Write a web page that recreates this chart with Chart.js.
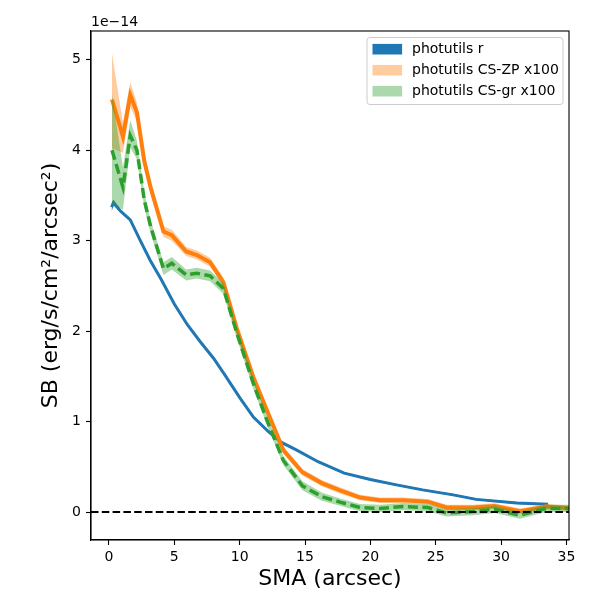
<!DOCTYPE html>
<html>
<head>
<meta charset="utf-8">
<script src="https://cdn.jsdelivr.net/npm/chart.js@4.4.1/dist/chart.umd.min.js"></script>
<style>
  html, body { margin: 0; padding: 0; background: #fff; }
  #wrap { width: 600px; height: 600px; }
</style>
</head>
<body>
<div id="wrap"><canvas id="myChart" width="600" height="600"></canvas></div>
<script>
// values in units of 1e-14 erg/s/cm^2/arcsec^2
const xTicks = [0, 5, 10, 15, 20, 25, 30, 35];
const yTicks = [0, 1, 2, 3, 4, 5];

// photutils r
const smaR = [0.2, 0.35, 0.86, 1.63, 2.4, 3.16, 4.0, 5.0, 6.0, 7.0, 8.0, 8.89, 10.03, 11.05, 12.2, 13.2, 14.37, 16.0, 18.0, 20.0, 22.0, 24.0, 26.34, 28.1, 31.2, 33.6];
const sbR = [3.37, 3.42, 3.33, 3.23, 3.0, 2.78, 2.57, 2.30, 2.07, 1.88, 1.70, 1.51, 1.26, 1.05, 0.89, 0.77, 0.685, 0.556, 0.43, 0.36, 0.30, 0.245, 0.19, 0.14, 0.10, 0.085];
const errR = [0.05, 0.03, 0.02, 0.015, 0.01, 0.01, 0.01, 0.01, 0.01, 0.01, 0.01, 0.01, 0.01, 0.01, 0.01, 0.01, 0.01, 0.01, 0.01, 0.01, 0.01, 0.01, 0.01, 0.01, 0.01, 0.01];

// colour-scaled profiles x100
const smaCS = [0.23, 1.07, 1.63, 2.14, 2.7, 3.2, 4.17, 4.81, 5.91, 6.72, 7.74, 8.76, 9.78, 11.05, 12.07, 13.34, 14.8, 16.28, 17.68, 19.21, 20.73, 22.5, 24.4, 25.83, 27.86, 29.5, 31.45, 33.47, 35.5];
const sbZP = [4.56, 4.15, 4.61, 4.42, 3.88, 3.58, 3.10, 3.06, 2.88, 2.84, 2.76, 2.54, 2.03, 1.49, 1.13, 0.685, 0.44, 0.32, 0.24, 0.16, 0.13, 0.13, 0.115, 0.05, 0.05, 0.066, 0.01, 0.06, 0.04];
const zpHi = [5.07, 4.30, 4.75, 4.52, 3.96, 3.65, 3.16, 3.12, 2.93, 2.89, 2.81, 2.59, 2.08, 1.54, 1.17, 0.725, 0.475, 0.355, 0.275, 0.19, 0.16, 0.16, 0.145, 0.08, 0.08, 0.096, 0.04, 0.09, 0.07];
const zpLo = [4.02, 3.97, 4.48, 4.32, 3.80, 3.51, 3.04, 3.00, 2.83, 2.79, 2.71, 2.49, 1.98, 1.44, 1.09, 0.645, 0.405, 0.285, 0.205, 0.13, 0.10, 0.10, 0.085, 0.02, 0.02, 0.036, -0.02, 0.03, 0.01];
const sbGR = [4.00, 3.59, 4.16, 4.00, 3.45, 3.15, 2.69, 2.75, 2.62, 2.64, 2.61, 2.47, 1.98, 1.42, 1.02, 0.57, 0.29, 0.17, 0.11, 0.05, 0.04, 0.06, 0.05, -0.01, 0.005, 0.03, -0.035, 0.04, 0.04];
const grHi = [4.62, 3.81, 4.33, 4.10, 3.53, 3.22, 2.76, 2.82, 2.68, 2.70, 2.67, 2.53, 2.04, 1.48, 1.07, 0.62, 0.34, 0.215, 0.15, 0.09, 0.08, 0.10, 0.09, 0.03, 0.045, 0.07, 0.005, 0.08, 0.08];
const grLo = [3.41, 3.34, 4.03, 3.90, 3.37, 3.08, 2.62, 2.68, 2.56, 2.58, 2.55, 2.41, 1.92, 1.36, 0.97, 0.52, 0.24, 0.125, 0.07, 0.01, 0.0, 0.02, 0.01, -0.05, -0.035, -0.01, -0.075, 0.0, 0.0];

const xMin = -1.375, xMax = 35.2, yMin = -0.309, yMax = 5.317;

const pts = (xs, ys) => xs.map((x, i) => ({ x: x, y: ys[i] }));
const FONT = 'DejaVu Sans';

const legendItems = [
  { text: 'photutils r', color: '#1f77b4' },
  { text: 'photutils CS-ZP x100', color: 'rgba(255,127,14,0.4)' },
  { text: 'photutils CS-gr x100', color: 'rgba(44,160,44,0.4)' }
];

// frame, offset text and in-axes legend
const decor = {
  id: 'decor',
  afterDraw(chart) {
    const { ctx, chartArea: a } = chart;
    ctx.save();
    ctx.strokeStyle = '#000';
    ctx.lineWidth = 1.1;
    ctx.strokeRect(a.left, a.top, a.right - a.left, a.bottom - a.top);

    ctx.fillStyle = '#000';
    ctx.font = '14px "' + FONT + '"';
    ctx.textAlign = 'left';
    ctx.textBaseline = 'alphabetic';
    ctx.fillText('1e\u221214', a.left, 26);

    const bw = 196, bh = 67;
    const bx = a.right - 6 - bw, by = a.top + 6.5;
    ctx.beginPath();
    ctx.roundRect(bx, by, bw, bh, 3);
    ctx.fillStyle = 'rgba(255,255,255,0.8)';
    ctx.fill();
    ctx.strokeStyle = '#cccccc';
    ctx.lineWidth = 1;
    ctx.stroke();
    legendItems.forEach((it, i) => {
      const cy = by + 11.7 + i * 21;
      ctx.fillStyle = '#fff';
      ctx.fillRect(bx + 5.5, cy - 5.3, 29.6, 10.6);
      ctx.fillStyle = it.color;
      ctx.fillRect(bx + 5.5, cy - 5.3, 29.6, 10.6);
      ctx.fillStyle = '#000';
      ctx.textBaseline = 'middle';
      ctx.fillText(it.text, bx + 45, cy);
    });
    ctx.restore();
  }
};

const band = (xs, ys, color, fill) => ({
  data: pts(xs, ys), borderWidth: 0, pointRadius: 0, tension: 0,
  backgroundColor: color, fill: fill
});

const ctx = document.getElementById('myChart').getContext('2d');
const myChart = new Chart(ctx, {
  type: 'line',
  data: {
    datasets: [
      { data: pts([xMin, xMax], [0, 0]), borderColor: '#000', borderWidth: 2, borderDash: [7.5, 3.3], pointRadius: 0, fill: false },
      { data: pts(smaCS, sbGR), borderColor: '#2ca02c', borderWidth: 3.5, borderDash: [10, 4.5], pointRadius: 0, tension: 0, fill: false },
      band(smaCS, grHi, 'rgba(44,160,44,0.4)', '+1'),
      band(smaCS, grLo, 'rgba(0,0,0,0)', false),
      { data: pts(smaCS, sbZP), borderColor: '#ff7f0e', borderWidth: 4, pointRadius: 0, tension: 0, fill: false },
      band(smaCS, zpHi, 'rgba(255,127,14,0.4)', '+1'),
      band(smaCS, zpLo, 'rgba(0,0,0,0)', false),
      { data: pts(smaR, sbR), borderColor: '#1f77b4', borderWidth: 3, pointRadius: 0, tension: 0, fill: false },
      band(smaR, sbR.map((v, i) => v + errR[i]), '#1f77b4', '+1'),
      band(smaR, sbR.map((v, i) => v - errR[i]), 'rgba(0,0,0,0)', false)
    ]
  },
  options: {
    responsive: false,
    animation: false,
    layout: { padding: { top: 31, right: 31, left: 0, bottom: 0 } },
    plugins: { legend: { display: false }, tooltip: { enabled: false } },
    scales: {
      x: {
        type: 'linear', min: xMin, max: xMax,
        afterBuildTicks: s => { s.ticks = xTicks.map(v => ({ value: v })); },
        afterFit: s => { s.height = 60; },
        grid: { drawOnChartArea: false, drawTicks: true, tickLength: 5, tickColor: '#000', tickWidth: 1.1 },
        border: { color: '#000', width: 1.1 },
        ticks: { color: '#000', font: { family: FONT, size: 14 }, padding: 4, maxRotation: 0 },
        title: { display: true, text: 'SMA (arcsec)', color: '#000', font: { family: FONT, size: 22 }, padding: { top: 0, bottom: 8 } }
      },
      y: {
        type: 'linear', min: yMin, max: yMax,
        afterBuildTicks: s => { s.ticks = yTicks.map(v => ({ value: v })); },
        afterFit: s => { s.width = 91; },
        grid: { drawOnChartArea: false, drawTicks: true, tickLength: 5, tickColor: '#000', tickWidth: 1.1 },
        border: { color: '#000', width: 1.1 },
        ticks: { color: '#000', font: { family: FONT, size: 14 }, padding: 5 },
        title: { display: true, text: 'SB (erg/s/cm\u00b2/arcsec\u00b2)', color: '#000', font: { family: FONT, size: 22 }, padding: { top: 38, bottom: 0 } }
      }
    }
  },
  plugins: [decor]
});
</script>
</body>
</html>
